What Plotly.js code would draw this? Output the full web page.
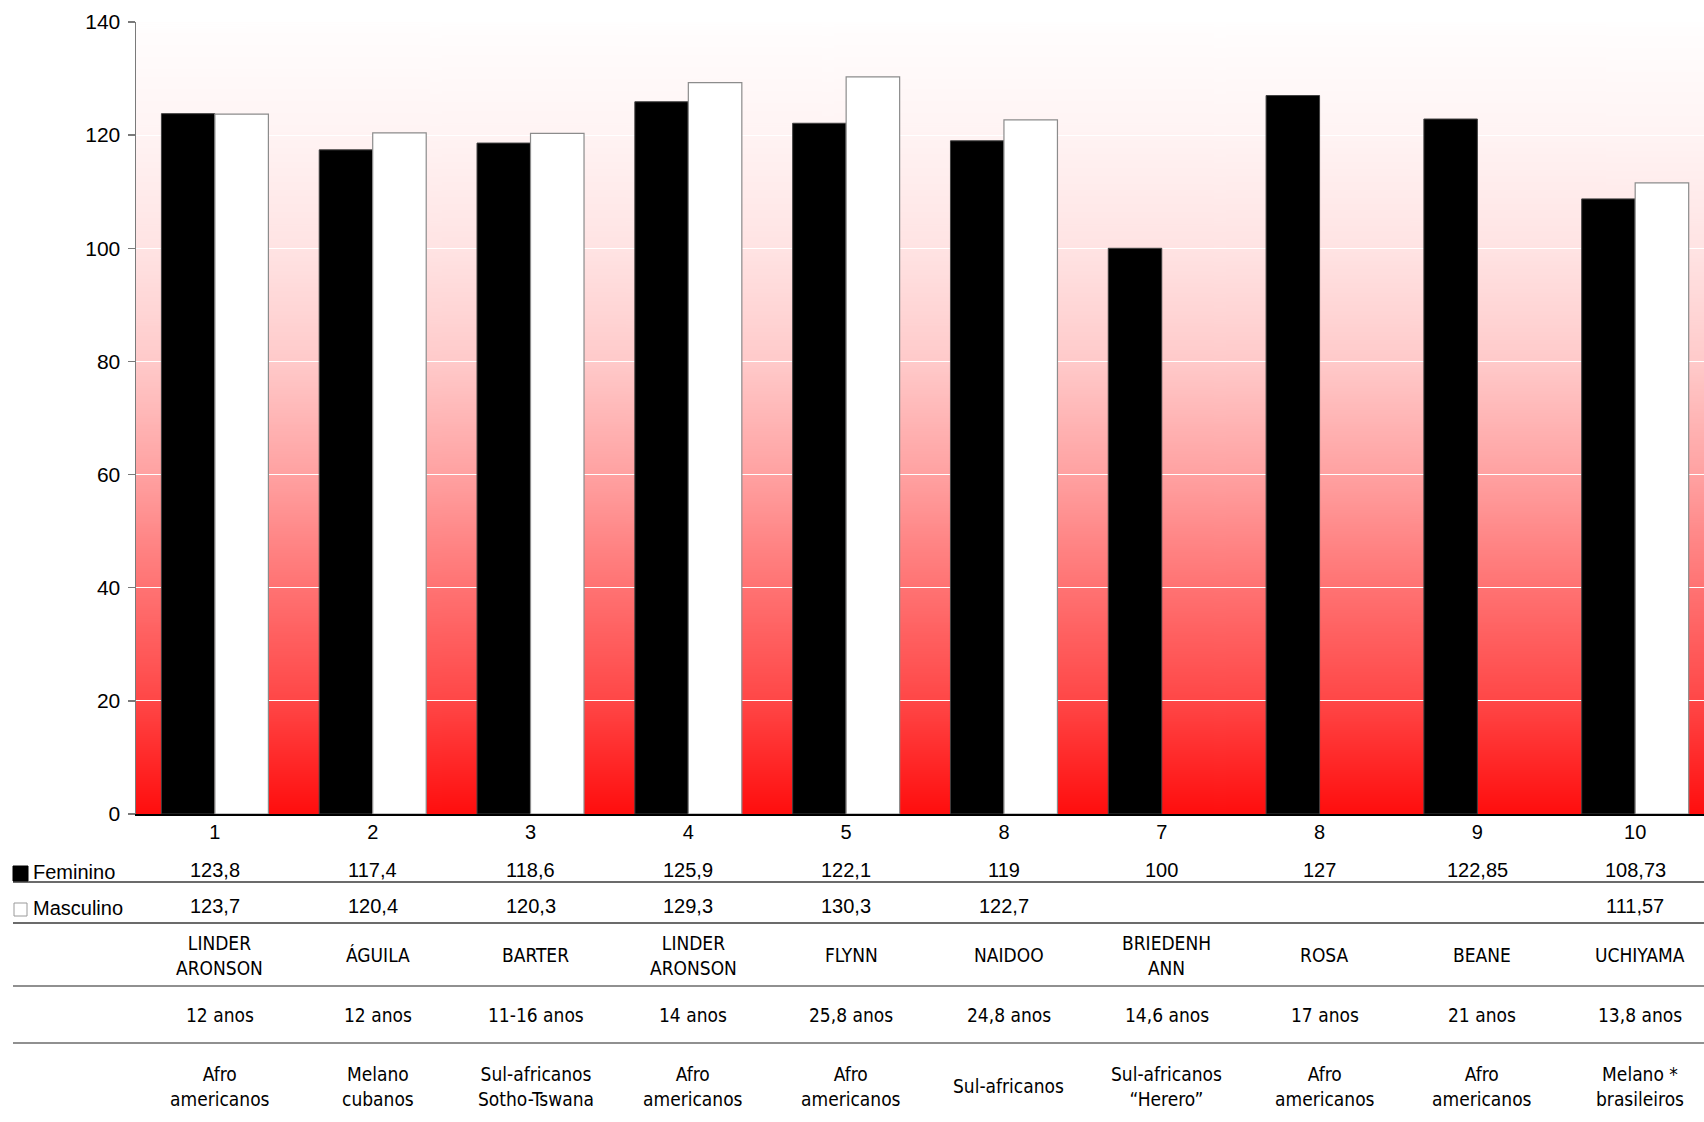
<!DOCTYPE html>
<html>
<head>
<meta charset="utf-8">
<script src="https://cdn.plot.ly/plotly-3.0.1.min.js"></script>
<style>
  html, body { margin: 0; padding: 0; background: #ffffff; }
  #chart { width: 1704px; height: 1122px; }
</style>
</head>
<body>
<div id="chart"></div>
<script>
// ---- data ----
const categories = ['1', '2', '3', '4', '5', '8', '7', '8', '9', '10'];
const feminino = [123.8, 117.4, 118.6, 125.9, 122.1, 119, 100, 127, 122.85, 108.73];
const masculino = [123.7, 120.4, 120.3, 129.3, 130.3, 122.7, null, null, null, 111.57];
const autores = ['LINDER<br>ARONSON', 'ÁGUILA', 'BARTER', 'LINDER<br>ARONSON', 'FLYNN', 'NAIDOO',
                 'BRIEDENH<br>ANN', 'ROSA', 'BEANE', 'UCHIYAMA'];
const idades = ['12 anos', '12 anos', '11-16 anos', '14 anos', '25,8 anos', '24,8 anos',
                '14,6 anos', '17 anos', '21 anos', '13,8 anos'];
const grupos = ['Afro<br>americanos', 'Melano<br>cubanos', 'Sul-africanos<br>Sotho-Tswana',
                'Afro<br>americanos', 'Afro<br>americanos', 'Sul-africanos',
                'Sul-africanos<br>“Herero”', 'Afro<br>americanos', 'Afro<br>americanos',
                'Melano *<br>brasileiros'];
const seriesNames = ['Feminino', 'Masculino'];

// ---- geometry helpers (pixel -> paper) ----
const W = 1704, H = 1122;
const mL = 136, mR = 0, mT = 22, mB = H - 814;
const plotW = W - mL - mR, plotH = H - mT - mB;
const px = x => (x - mL) / plotW;
const py = y => (H - mB - y) / plotH;

const idx = categories.map((c, i) => i);
const fmt = v => (v === null || v === undefined) ? '' : String(v).replace('.', ',');

// ---- gradient background ----
const cv = document.createElement('canvas');
cv.width = 8; cv.height = 800;
const ctx = cv.getContext('2d');
const g = ctx.createLinearGradient(0, 0, 0, 800);
g.addColorStop(0.00, '#fffefe');
g.addColorStop(0.14, '#fff4f4');
g.addColorStop(0.29, '#ffe3e3');
g.addColorStop(0.43, '#ffcaca');
g.addColorStop(0.57, '#ffa2a2');
g.addColorStop(0.71, '#ff7474');
g.addColorStop(0.86, '#ff4646');
g.addColorStop(1.00, '#ff0e0e');
ctx.fillStyle = g;
ctx.fillRect(0, 0, 8, 800);
const bgURL = cv.toDataURL('image/png');

// ---- traces ----
const traces = [
  {
    type: 'bar', name: seriesNames[0], x: idx, y: feminino,
    marker: { color: '#000000', line: { color: '#404040', width: 1 } },
    hoverinfo: 'y'
  },
  {
    type: 'bar', name: seriesNames[1], x: idx, y: masculino,
    marker: { color: '#ffffff', line: { color: '#8c8c8c', width: 1.2 } },
    hoverinfo: 'y'
  }
];

// ---- table annotations ----
const numFont = { family: 'Liberation Sans, Arial, sans-serif', size: 20, color: '#000' };
const txtFont = { family: 'DejaVu Sans Condensed, DejaVu Sans, sans-serif', size: 19, color: '#000' };
const annotations = [];
idx.forEach(i => {
  annotations.push({ xref: 'x', yref: 'paper', x: i, y: py(870), text: fmt(feminino[i]),
    showarrow: false, xanchor: 'center', yanchor: 'middle', font: numFont });
  annotations.push({ xref: 'x', yref: 'paper', x: i, y: py(906), text: fmt(masculino[i]),
    showarrow: false, xanchor: 'center', yanchor: 'middle', font: numFont });
  annotations.push({ xref: 'x', yref: 'paper', x: i, xshift: 5, y: py(955), text: autores[i],
    showarrow: false, xanchor: 'center', yanchor: 'middle', font: txtFont });
  annotations.push({ xref: 'x', yref: 'paper', x: i, xshift: 5, y: py(1015), text: idades[i],
    showarrow: false, xanchor: 'center', yanchor: 'middle', font: txtFont });
  annotations.push({ xref: 'x', yref: 'paper', x: i, xshift: 5, y: py(1086), text: grupos[i],
    showarrow: false, xanchor: 'center', yanchor: 'middle', font: txtFont });
});
annotations.push({ xref: 'paper', yref: 'paper', x: px(31), y: py(872), text: seriesNames[0],
  showarrow: false, xanchor: 'left', yanchor: 'middle', font: numFont });
annotations.push({ xref: 'paper', yref: 'paper', x: px(31), y: py(908), text: seriesNames[1],
  showarrow: false, xanchor: 'left', yanchor: 'middle', font: numFont });

// ---- table lines & legend keys ----
const hline = (y, color, w) => ({ type: 'line', xref: 'paper', yref: 'paper',
  x0: px(13), x1: 1, y0: py(y), y1: py(y), line: { color: color, width: w } });
const shapes = [
  hline(882, '#3a3a3a', 1.5),
  hline(923, '#3a3a3a', 1.5),
  hline(986, '#222222', 1.2),
  hline(1043, '#222222', 1.2),
  { type: 'rect', xref: 'paper', yref: 'paper', x0: px(13), x1: px(28), y0: py(881), y1: py(866),
    fillcolor: '#000000', line: { color: '#000000', width: 1 } },
  { type: 'rect', xref: 'paper', yref: 'paper', x0: px(14), x1: px(27), y0: py(916), y1: py(903),
    fillcolor: '#ffffff', line: { color: '#9a9a9a', width: 1 } }
];

const layout = {
  width: W, height: H,
  margin: { l: mL, r: mR, t: mT, b: mB, pad: 0 },
  paper_bgcolor: '#ffffff',
  plot_bgcolor: 'rgba(0,0,0,0)',
  showlegend: false,
  barmode: 'group',
  bargap: 0.322,
  bargroupgap: 0,
  font: { family: 'Liberation Sans, Arial, sans-serif', size: 20, color: '#000' },
  xaxis: {
    range: [-0.5, 9.436],
    tickmode: 'array', tickvals: idx, ticktext: categories,
    showgrid: false, zeroline: false,
    showline: true, linecolor: '#000000', linewidth: 1.5,
    ticks: '', ticklabelstandoff: -1,
    tickfont: { family: 'Liberation Sans, Arial, sans-serif', size: 20, color: '#000' },
    fixedrange: true
  },
  yaxis: {
    range: [0, 140], dtick: 20, tick0: 0,
    showgrid: true, gridcolor: '#ffffff', gridwidth: 1,
    zeroline: false,
    showline: true, linecolor: '#7a7a7a', linewidth: 1.5,
    ticks: 'outside', ticklen: 7, tickcolor: '#7a7a7a', tickwidth: 1.5,
    ticklabelstandoff: 3,
    tickfont: { family: 'Liberation Sans, Arial, sans-serif', size: 21, color: '#000' },
    fixedrange: true
  },
  images: [{
    source: bgURL, xref: 'paper', yref: 'paper', x: 0, y: 1, sizex: 1, sizey: 1,
    xanchor: 'left', yanchor: 'top', sizing: 'stretch', layer: 'below'
  }],
  annotations: annotations,
  shapes: shapes
};

Plotly.newPlot('chart', traces, layout, { displayModeBar: false, staticPlot: true });
</script>
</body>
</html>
